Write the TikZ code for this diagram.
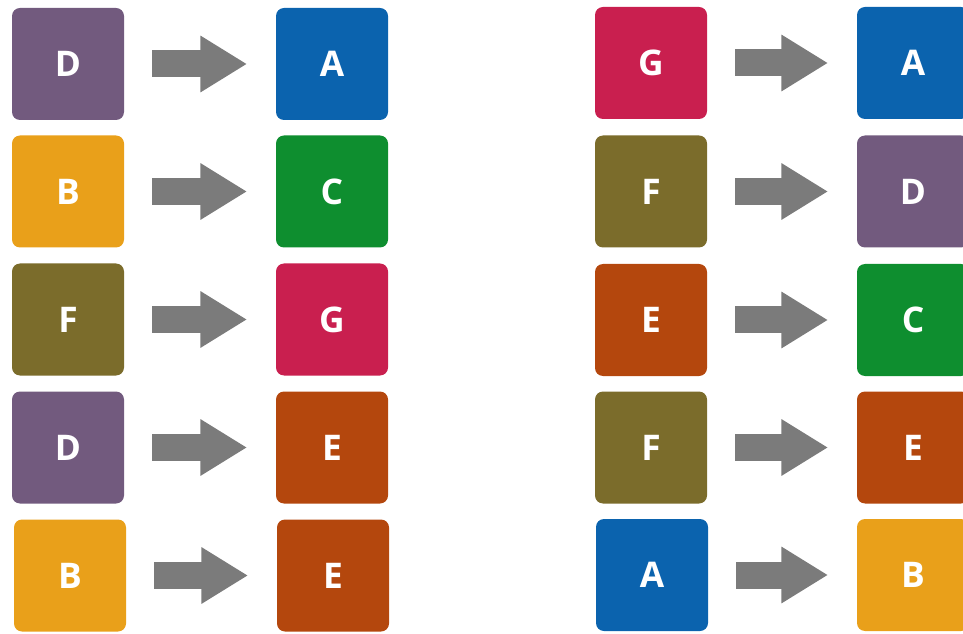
\documentclass[tikz,border=0pt]{standalone}
\usepackage{fontspec}
\setmainfont{Open Sans}
\usetikzlibrary{arrows.meta}
\definecolor{cpurple}{HTML}{725A7E}
\definecolor{cblue}{HTML}{0B63AE}
\definecolor{corange}{HTML}{E9A01A}
\definecolor{cgreen}{HTML}{0E8E2F}
\definecolor{colive}{HTML}{7B6C2B}
\definecolor{ccrimson}{HTML}{C91F4F}
\definecolor{crust}{HTML}{B4470D}
\definecolor{carrow}{HTML}{7B7B7B}
\tikzset{
  tile/.style={rectangle, rounded corners=6pt, minimum width=84pt, minimum height=84pt,
    inner sep=0pt, text=white, font=\fontsize{26.5}{26.5}\selectfont\bfseries},
  blockarrow/.style={draw=carrow, line width=20.25pt, line cap=butt,
    -{Triangle[length=35pt,width=40pt]}, shorten <=21pt, shorten >=21.5pt}
}
\begin{document}
\begin{tikzpicture}[x=0.75pt,y=-0.75pt]
\useasboundingbox (0,0) rectangle (963,634);
% left column
\node[tile, fill=cpurple]  (l1a) at (68,64) {D};
\node[tile, fill=cblue]    (l1b) at (332,64) {A};
\node[tile, fill=corange]  (l2a) at (68,191.5) {B};
\node[tile, fill=cgreen]   (l2b) at (332,191.5) {C};
\node[tile, fill=colive]   (l3a) at (68,319.5) {F};
\node[tile, fill=ccrimson] (l3b) at (332,319.5) {G};
\node[tile, fill=cpurple]  (l4a) at (68,447.5) {D};
\node[tile, fill=crust]    (l4b) at (332,447.5) {E};
\node[tile, fill=corange]  (l5a) at (70,575.5) {B};
\node[tile, fill=crust]    (l5b) at (333,575.5) {E};
% right column
\node[tile, fill=ccrimson] (r1a) at (651,63) {G};
\node[tile, fill=cblue]    (r1b) at (913,63) {A};
\node[tile, fill=colive]   (r2a) at (651,191.5) {F};
\node[tile, fill=cpurple]  (r2b) at (913,191.5) {D};
\node[tile, fill=crust]    (r3a) at (651,320) {E};
\node[tile, fill=cgreen]   (r3b) at (913,320) {C};
\node[tile, fill=colive]   (r4a) at (651,447.5) {F};
\node[tile, fill=crust]    (r4b) at (913,447.5) {E};
\node[tile, fill=cblue]    (r5a) at (652,575) {A};
\node[tile, fill=corange]  (r5b) at (913,575) {B};
% arrows
\foreach \a/\b in {l1a/l1b,l2a/l2b,l3a/l3b,l4a/l4b,l5a/l5b,r1a/r1b,r2a/r2b,r3a/r3b,r4a/r4b,r5a/r5b}
  \draw[blockarrow] (\a) -- (\b);
\end{tikzpicture}
\end{document}
